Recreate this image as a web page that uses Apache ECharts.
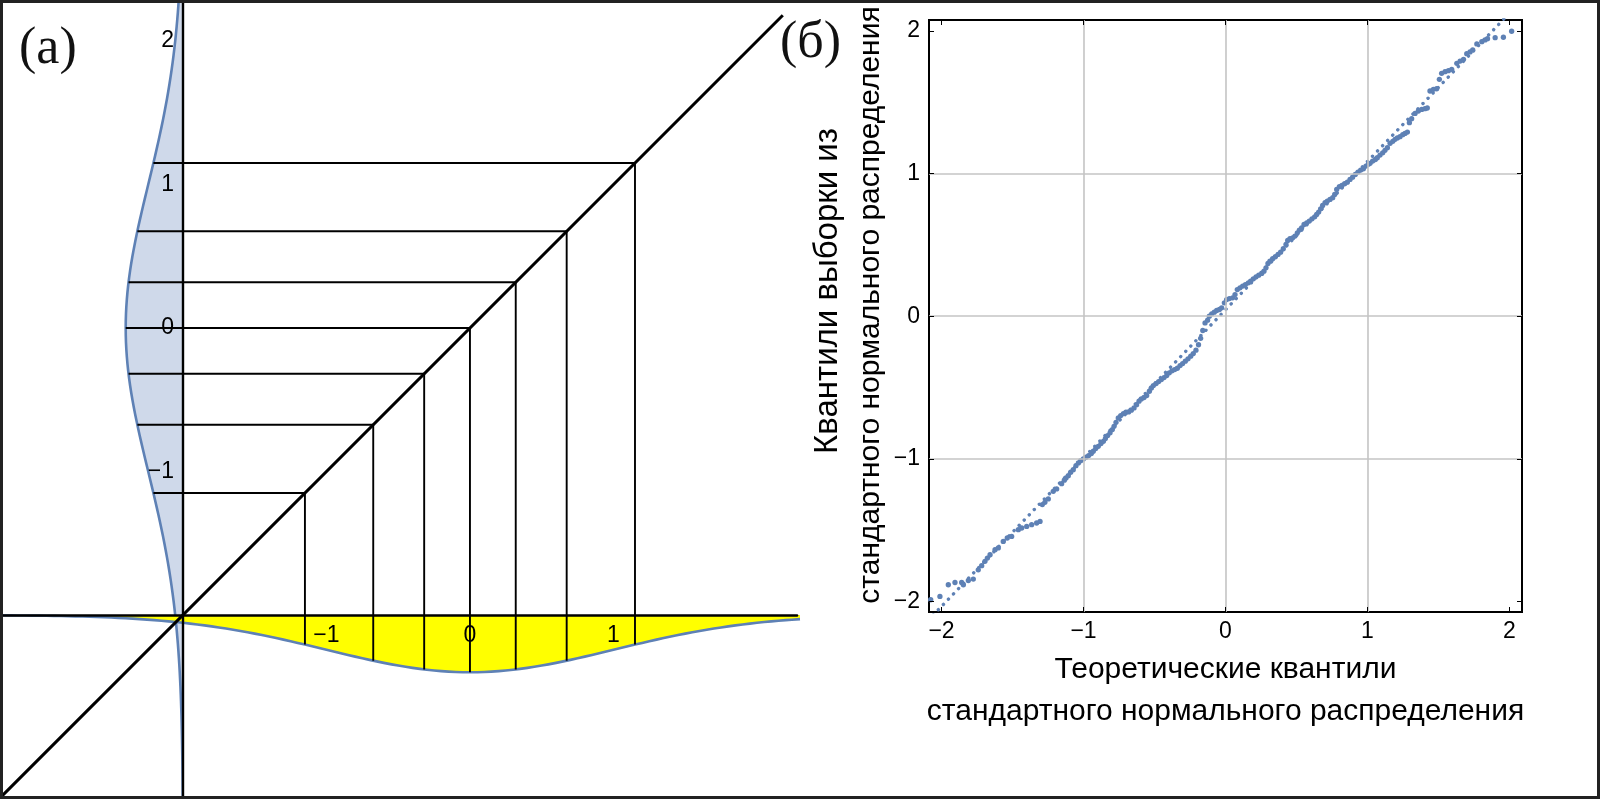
<!DOCTYPE html>
<html><head><meta charset="utf-8">
<script src="https://cdn.jsdelivr.net/npm/echarts@6/dist/echarts.min.js"></script>
<style>html,body{margin:0;padding:0;background:#fff}#chart{width:1600px;height:799px}</style>
</head><body><div id="chart"></div>
<script>
// ---------- Panel (a): standard normal density and octile construction ----------
const densityZ = [-3.3,-3.2,-3.1,-3.0,-2.9,-2.8,-2.7,-2.6,-2.5,-2.4,-2.3,-2.2,-2.1,-2.0,-1.9,-1.8,-1.7,-1.6,-1.5,-1.4,-1.3,-1.2,-1.1,-1.0,-0.9,-0.8,-0.7,-0.6,-0.5,-0.4,-0.3,-0.2,-0.1,0.0,0.1,0.2,0.3,0.4,0.5,0.6,0.7,0.8,0.9,1.0,1.1,1.2,1.3,1.4,1.5,1.6,1.7,1.8,1.9,2.0,2.1,2.2,2.3];
const densityValues = [0.0017,0.0024,0.0033,0.0044,0.0060,0.0079,0.0104,0.0136,0.0175,0.0224,0.0283,0.0355,0.0440,0.0540,0.0656,0.0790,0.0940,0.1109,0.1295,0.1497,0.1714,0.1942,0.2179,0.2420,0.2661,0.2897,0.3123,0.3332,0.3521,0.3683,0.3814,0.3910,0.3970,0.3989,0.3970,0.3910,0.3814,0.3683,0.3521,0.3332,0.3123,0.2897,0.2661,0.2420,0.2179,0.1942,0.1714,0.1497,0.1295,0.1109,0.0940,0.0790,0.0656,0.0540,0.0440,0.0355,0.0283];
const octileQuantiles = [-1.150,-0.674,-0.319,0.0,0.319,0.674,1.150];
const octileDensity = [0.2059,0.3178,0.3791,0.3989,0.3791,0.3178,0.2059];
const axisCross = -2;
const diagonalEnds = [-3.3, 2.18];
const panelATicksX = [-1, 0, 1];
const panelATicksY = [-1, 0, 1, 2];

// ---------- Panel (б): Q-Q plot ----------
const qqTicks = [-2, -1, 0, 1, 2];
const qqGridValues = [-1, 0, 1];
const refLine = [[-2.2, -2.243], [2.2, 2.333]];
const qqPoints = [
[-2.076,-1.988],[-2.011,-1.965],[-1.952,-1.883],[-1.905,-1.867],[-1.858,-1.867],[-1.846,-1.883],[-1.811,-1.853],[-1.776,-1.843],
[-1.741,-1.778],[-1.717,-1.749],[-1.694,-1.719],[-1.677,-1.696],[-1.658,-1.672],[-1.623,-1.637],[-1.600,-1.625],[-1.565,-1.579],
[-1.537,-1.555],[-1.506,-1.544],[-1.459,-1.497],[-1.435,-1.485],[-1.400,-1.474],[-1.365,-1.462],[-1.330,-1.450],[-1.306,-1.439],
[-1.290,-1.321],[-1.272,-1.305],[-1.248,-1.281],[-1.213,-1.228],[-1.189,-1.211],[-1.154,-1.174],[-1.135,-1.150],
[-1.123,-1.134],[-1.107,-1.118],[-1.090,-1.094],[-1.072,-1.076],[-1.053,-1.048],[-1.036,-1.029],[-1.020,-1.013],[-1.001,-1.001],
[-0.982,-0.989],[-0.964,-0.977],[-0.945,-0.963],[-0.931,-0.947],[-0.914,-0.928],[-0.896,-0.912],[-0.877,-0.893],[-0.860,-0.877],
[-0.846,-0.858],[-0.830,-0.837],[-0.813,-0.818],[-0.797,-0.795],[-0.785,-0.772],[-0.771,-0.744],[-0.755,-0.713],[-0.738,-0.697],
[-0.719,-0.683],[-0.701,-0.673],[-0.682,-0.671],[-0.663,-0.659],[-0.644,-0.643],[-0.626,-0.620],[-0.609,-0.596],[-0.593,-0.580],
[-0.574,-0.570],[-0.555,-0.556],[-0.536,-0.526],[-0.522,-0.503],[-0.508,-0.486],[-0.489,-0.472],[-0.471,-0.458],[-0.452,-0.444],
[-0.433,-0.430],[-0.414,-0.416],[-0.396,-0.397],[-0.377,-0.383],[-0.358,-0.374],[-0.339,-0.365],[-0.320,-0.346],[-0.302,-0.332],
[-0.283,-0.315],[-0.264,-0.299],[-0.245,-0.280],[-0.227,-0.262],[-0.208,-0.238],[-0.190,-0.200],[-0.175,-0.155],[-0.160,-0.100],
[-0.144,-0.047],[-0.126,-0.028],[-0.114,0.000],[-0.097,0.017],[-0.079,0.028],[-0.062,0.040],[-0.043,0.047],[-0.027,0.059],
[-0.008,0.094],[0.008,0.117],[0.027,0.124],[0.050,0.129],[0.067,0.152],[0.083,0.187],[0.102,0.199],[0.121,0.211],[0.140,0.222],
[0.161,0.234],[0.177,0.246],[0.196,0.262],[0.215,0.276],[0.234,0.288],[0.255,0.300],[0.271,0.316],[0.285,0.339],[0.299,0.370],
[0.313,0.386],[0.332,0.403],[0.351,0.417],[0.370,0.433],[0.388,0.449],[0.407,0.473],[0.426,0.503],[0.438,0.531],[0.454,0.543],
[0.473,0.550],[0.489,0.562],[0.506,0.585],[0.520,0.604],[0.536,0.620],[0.553,0.643],[0.572,0.655],[0.590,0.667],[0.609,0.683],
[0.628,0.697],[0.642,0.714],[0.656,0.730],[0.670,0.753],[0.684,0.777],[0.701,0.796],[0.717,0.807],[0.736,0.819],[0.755,0.831],
[0.769,0.854],[0.783,0.889],[0.802,0.908],[0.820,0.917],[0.839,0.929],[0.858,0.940],[0.877,0.959],[0.895,0.975],[0.914,0.994],
[0.933,1.011],[0.952,1.025],[0.971,1.034],[0.989,1.053],[1.006,1.066],[1.018,1.072],[1.036,1.088],[1.055,1.099],[1.069,1.111],
[1.088,1.130],[1.107,1.146],[1.123,1.163],[1.140,1.182],[1.159,1.212],[1.178,1.226],[1.194,1.240],[1.210,1.250],[1.229,1.259],
[1.248,1.273],[1.264,1.282],[1.281,1.291],[1.295,1.357],[1.311,1.385],[1.335,1.422],[1.358,1.439],[1.382,1.450],[1.405,1.455],
[1.421,1.460],[1.440,1.579],[1.464,1.591],[1.487,1.595],[1.506,1.661],[1.522,1.703],[1.546,1.715],[1.570,1.722],[1.593,1.731],
[1.629,1.773],[1.652,1.789],[1.676,1.801],[1.699,1.841],[1.722,1.853],[1.741,1.867],[1.770,1.909],[1.805,1.925],[1.828,1.937],
[1.845,1.946],[1.899,1.953],[1.957,1.956],[2.015,1.998]
];

const labelA = '(a)';
const labelB = '(б)';
const xTitle = 'Теоретические квантили\nстандартного нормального распределения';
const yTitleLine1 = 'Квантили выборки из';
const yTitleLine2 = 'стандартного нормального распределения';

// ---------- styling ----------
const BLUE = '#5e81b5';
const BLUE_FILL = '#cfd9ea';
const YELLOW = '#ffff00';
const FONT = '"Liberation Sans", Arial, sans-serif';
const SERIF = '"Liberation Serif", "Times New Roman", serif';
const minus = v => String(v).replace('-', '\u2212');

const chart = echarts.init(document.getElementById('chart'), null, {renderer: 'canvas'});

const zMin = densityZ[0], zMax = densityZ[densityZ.length - 1];

const option = {
  animation: false,
  backgroundColor: '#fff',
  grid: [
    {left: 3, top: 3, width: 794, height: 793, show: false},
    {left: 929, top: 20, width: 593, height: 592, show: true, borderColor: '#000', borderWidth: 2, backgroundColor: 'transparent'}
  ],
  xAxis: [
    {gridIndex: 0, type: 'value', min: -3.254, max: 2.279, position: 'bottom', offset: -181, z: 5,
      axisLine: {onZero: false, lineStyle: {color: '#000', width: 2.6}},
      axisTick: {show: false}, splitLine: {show: false},
      axisLabel: {customValues: panelATicksX, formatter: minus, margin: 9, fontSize: 23, color: '#000', fontFamily: FONT}},
    {gridIndex: 1, type: 'value', min: -2.088, max: 2.088, position: 'bottom', z: 5,
      axisLine: {onZero: false, show: false},
      axisTick: {show: true, inside: true, length: 5, customValues: qqTicks, lineStyle: {color: '#000', width: 1}},
      splitLine: {show: false},
      axisLabel: {customValues: qqTicks, formatter: minus, margin: 8, fontSize: 23, color: '#000', fontFamily: FONT},
      name: xTitle, nameLocation: 'middle', nameGap: 37,
      nameTextStyle: {fontSize: 30, lineHeight: 42, color: '#000', fontFamily: FONT}},
    {gridIndex: 1, type: 'value', min: -2.088, max: 2.088, position: 'top', z: 5,
      axisLine: {onZero: false, show: false},
      axisTick: {show: true, inside: true, length: 5, customValues: qqTicks, lineStyle: {color: '#000', width: 1}},
      splitLine: {show: false}, axisLabel: {show: false}}
  ],
  yAxis: [
    {gridIndex: 0, type: 'value', min: -3.261, max: 2.265, position: 'left', offset: -180, z: 5,
      axisLine: {onZero: false, lineStyle: {color: '#000', width: 2.4}},
      axisTick: {show: false}, splitLine: {show: false},
      axisLabel: {customValues: panelATicksY, formatter: minus, margin: 9, fontSize: 23, color: '#000', fontFamily: FONT}},
    {gridIndex: 1, type: 'value', min: -2.074, max: 2.077, position: 'left', z: 5,
      axisLine: {onZero: false, show: false},
      axisTick: {show: true, inside: true, length: 5, customValues: qqTicks, lineStyle: {color: '#000', width: 1}},
      splitLine: {show: false},
      axisLabel: {customValues: qqTicks, formatter: minus, margin: 9, fontSize: 23, color: '#000', fontFamily: FONT}},
    {gridIndex: 1, type: 'value', min: -2.074, max: 2.077, position: 'right', z: 5,
      axisLine: {onZero: false, show: false},
      axisTick: {show: true, inside: true, length: 5, customValues: qqTicks, lineStyle: {color: '#000', width: 1}},
      splitLine: {show: false}, axisLabel: {show: false}}
  ],
  series: [
    // vertical density (blue), hanging left of the vertical axis
    {type: 'custom', xAxisIndex: 0, yAxisIndex: 0, z: 1, silent: true,
      data: [[axisCross, axisCross]],
      renderItem: function (params, api) {
        const pts = densityZ.map((z, i) => api.coord([axisCross - densityValues[i], z]));
        const poly = pts.concat([api.coord([axisCross, zMax]), api.coord([axisCross, zMin])]);
        return {type: 'group', children: [
          {type: 'polygon', shape: {points: poly}, style: {fill: BLUE_FILL}},
          {type: 'polyline', shape: {points: pts, smooth: 0.3}, style: {stroke: BLUE, lineWidth: 2.6, fill: null}}
        ]};
      }},
    // horizontal density (yellow), hanging below the horizontal axis
    {type: 'custom', xAxisIndex: 0, yAxisIndex: 0, z: 1, silent: true,
      data: [[axisCross, axisCross]],
      renderItem: function (params, api) {
        const pts = densityZ.map((z, i) => api.coord([z, axisCross - densityValues[i]]));
        const poly = pts.concat([api.coord([zMax, axisCross]), api.coord([zMin, axisCross])]);
        return {type: 'group', children: [
          {type: 'polygon', shape: {points: poly}, style: {fill: YELLOW}},
          {type: 'polyline', shape: {points: pts, smooth: 0.3}, style: {stroke: BLUE, lineWidth: 2.6, fill: null}}
        ]};
      }},
    // octile connectors: density curve -> diagonal -> density curve
    {type: 'custom', xAxisIndex: 0, yAxisIndex: 0, z: 3, silent: true,
      data: octileQuantiles.map((q, i) => [q, octileDensity[i]]),
      renderItem: function (params, api) {
        const q = api.value(0), d = api.value(1);
        return {type: 'polyline',
          shape: {points: [api.coord([axisCross - d, q]), api.coord([q, q]), api.coord([q, axisCross - d])]},
          style: {stroke: '#000', lineWidth: 1.9, fill: null}};
      }},
    // diagonal
    {type: 'line', xAxisIndex: 0, yAxisIndex: 0, z: 4, silent: true, symbol: 'none',
      data: diagonalEnds.map(v => [v, v]),
      lineStyle: {color: '#000', width: 3}},
    // Q-Q reference line (dotted) + grid lines
    {type: 'line', xAxisIndex: 1, yAxisIndex: 1, z: 2, silent: true, symbol: 'none', clip: true,
      data: refLine,
      lineStyle: {color: BLUE, width: 3.4, type: [0.1, 7.2], cap: 'round'},
      markLine: {silent: true, symbol: 'none', label: {show: false}, animation: false,
        lineStyle: {color: '#c4c4c4', width: 1.6, type: 'solid'},
        data: qqGridValues.map(v => ({xAxis: v})).concat(qqGridValues.map(v => ({yAxis: v})))}},
    // Q-Q points
    {type: 'scatter', xAxisIndex: 1, yAxisIndex: 1, z: 3, silent: true, clip: true,
      symbolSize: 5.3, itemStyle: {color: BLUE, opacity: 1},
      data: qqPoints}
  ],
  graphic: [
    {type: 'rect', z: 100, silent: true, shape: {x: 1.5, y: 1.5, width: 1597, height: 796},
      style: {fill: null, stroke: '#222', lineWidth: 3}},
    {type: 'text', left: 19, top: 23, z: 100, silent: true,
      style: {text: labelA, font: '52px ' + SERIF, fill: '#111'}},
    {type: 'text', left: 780, top: 17, z: 100, silent: true,
      style: {text: labelB, font: '52px ' + SERIF, fill: '#111'}},
    {type: 'text', x: 828, y: 291, rotation: Math.PI / 2, z: 100, silent: true,
      style: {text: yTitleLine1, font: '33px ' + FONT, fill: '#000', align: 'center', verticalAlign: 'middle'}},
    {type: 'text', x: 871, y: 305, rotation: Math.PI / 2, z: 100, silent: true,
      style: {text: yTitleLine2, font: '30px ' + FONT, fill: '#000', align: 'center', verticalAlign: 'middle'}}
  ]
};
chart.setOption(option);
</script>
</body></html>
